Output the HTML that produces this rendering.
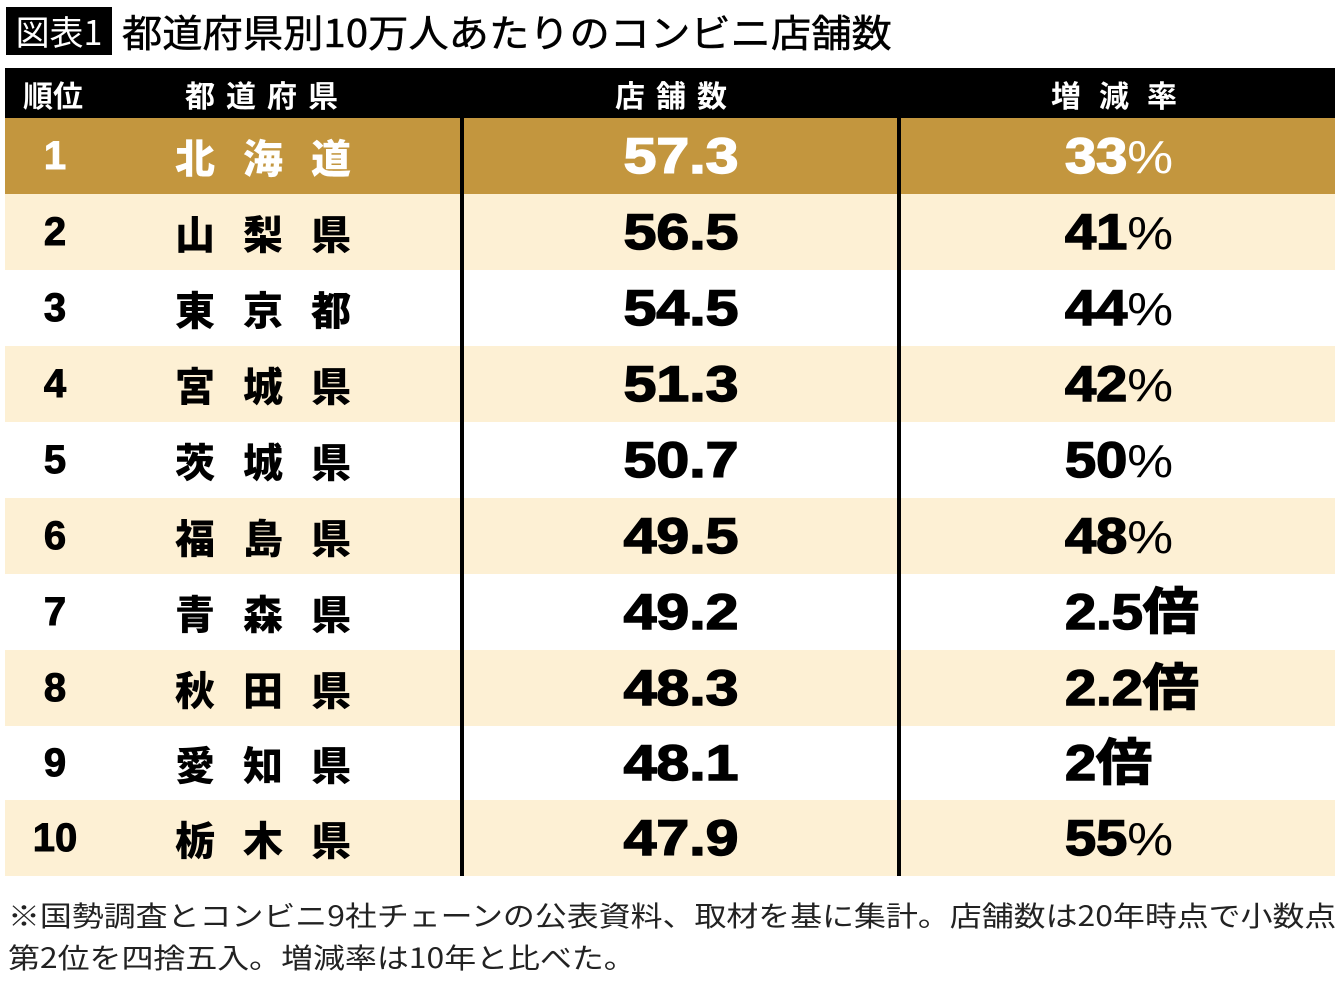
<!DOCTYPE html>
<html><head><meta charset="utf-8"><style>
body{margin:0;width:1340px;height:982px;background:#fff;position:relative;overflow:hidden;font-family:"Liberation Sans","Noto Sans CJK JP",sans-serif;}
.a{position:absolute;}
.row{position:absolute;left:5px;width:1330px;}
.c{position:absolute;white-space:nowrap;font-weight:bold;top:0;}
.rk{left:0;width:100px;text-align:center;font-size:40px;-webkit-text-stroke:1px currentColor;}
.pf{left:170px;font-size:40px;letter-spacing:28px;font-family:"Noto Sans CJK JP",sans-serif;font-weight:900;}
.vl{left:458px;width:436px;text-align:center;font-size:50px;-webkit-text-stroke:1.5px currentColor;transform:scaleX(1.18);}
.pc{left:1060px;font-size:50px;-webkit-text-stroke:1.5px currentColor;transform:scaleX(1.12);transform-origin:left center;}
.pc span{font-weight:normal;font-size:46px;-webkit-text-stroke:0;}
</style></head><body>
<div class="a" style="left:6px;top:7px;width:106px;height:48px;background:#000;color:#fff;font-size:34px;line-height:48px;text-align:center;font-family:'Noto Sans CJK JP',sans-serif;">図表1</div>
<div class="a" style="left:122px;top:7px;font-size:38px;line-height:48px;font-family:'Noto Sans CJK JP',sans-serif;white-space:nowrap;transform:scaleX(1.06);transform-origin:left center;-webkit-text-stroke:0.5px #000;">都道府県別10万人あたりのコンビニ店舗数</div>
<div class="a" style="left:5px;top:68px;width:1330px;height:50px;background:#000;color:#fff;font-weight:bold;font-size:30px;font-family:'Noto Sans CJK JP',sans-serif;">
<span class="a" style="left:18px;top:4px;">順位</span>
<span class="a" style="left:180px;top:4px;letter-spacing:11px;">都道府県</span>
<span class="a" style="left:610px;top:4px;letter-spacing:11px;">店舗数</span>
<span class="a" style="left:1046px;top:4px;letter-spacing:18px;">増減率</span>
</div>
<div id="tbl"></div>
<div class="a" style="left:460px;top:118px;width:4px;height:758px;background:#000;"></div>
<div class="a" style="left:897px;top:118px;width:4px;height:758px;background:#000;"></div>
<div class="a" style="left:8px;top:894px;font-size:28px;line-height:42px;color:#222;font-family:'Noto Sans CJK JP',sans-serif;white-space:nowrap;transform:scaleX(1.14);transform-origin:left top;">※国勢調査とコンビニ9社チェーンの公表資料、取材を基に集計。店舗数は20年時点で小数点<br>第2位を四捨五入。増減率は10年と比べた。</div>
<script>
const prefs=["北海道","山梨県","東京都","宮城県","茨城県","福島県","青森県","秋田県","愛知県","栃木県"];
const vals=["57.3","56.5","54.5","51.3","50.7","49.5","49.2","48.3","48.1","47.9"];
const chg=[["33","%"],["41","%"],["44","%"],["42","%"],["50","%"],["48","%"],["2.5倍",""],["2.2倍",""],["2倍",""],["55","%"]];
const tbl=document.getElementById('tbl');
const tops=[118,194,270,346,422,498,574,650,726,800,876];
prefs.forEach((p,i)=>{
 const r=document.createElement('div');
 
 
 r.className='row';
 const t=tops[i],h=tops[i+1]-t;
 r.style.top=t+'px';r.style.height=h+'px';
 r.style.background=i===0?'#C3963E':(i%2?'#FDF0D4':'#fff');
 const col=i===0?'#fff':'#000';
 const lh=`line-height:${h}px;height:${h}px;`;
 r.innerHTML=`<div class="c rk" style="${lh}color:${col}">${i+1}</div>`+
 `<div class="c pf" style="${lh}color:${col}">${p}</div>`+
 `<div class="c vl" style="${lh}color:${col}">${vals[i]}</div>`+
 `<div class="c pc" style="${lh}color:${col}">${chg[i][0]}<span>${chg[i][1]}</span></div>`;
 tbl.appendChild(r);
});
</script>
</body></html>
